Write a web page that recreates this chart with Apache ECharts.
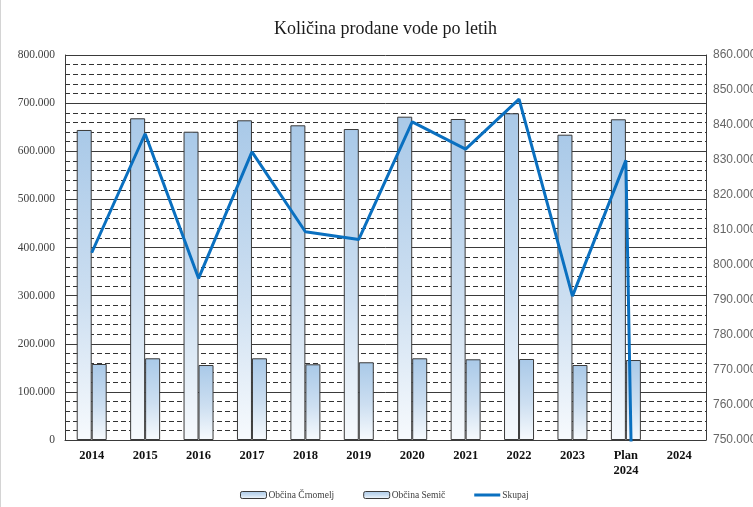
<!DOCTYPE html>
<html>
<head>
<meta charset="utf-8">
<script src="https://cdn.jsdelivr.net/npm/echarts@6/dist/echarts.min.js"></script>
<style>
  html, body { margin: 0; padding: 0; background: #fff; }
  #chart { width: 753px; height: 507px; box-sizing: border-box; border-left: 1px solid #d4d4d4; }
</style>
</head>
<body>
<div id="chart"></div>
<script>
// Years (last two are the plan and the current year)
const categories = ['2014', '2015', '2016', '2017', '2018', '2019', '2020', '2021', '2022', '2023', 'Plan\n2024', '2024'];

// Sold water per municipality (m³), left axis
const crnomelj = [644200, 668500, 640600, 664300, 653900, 646200, 671800, 667000, 678900, 634400, 666400, null];
const semic = [157900, 169800, 155800, 169800, 157300, 161500, 169800, 167700, 168300, 155800, 166200, null];

// Total, right axis
const skupaj = [803500, 837500, 796200, 832300, 809500, 807300, 840900, 833100, 847400, 791100, 829900, 0];

const seriesNames = ['Občina Črnomelj', 'Občina Semič', 'Skupaj'];
const chartTitle = 'Količina prodane vode po letih';

function thousands(v) {
  if (v === 0) return '0';
  return String(Math.round(v)).replace(/\B(?=(\d{3})+(?!\d))/g, '.');
}

const serif = '"Liberation Serif", "DejaVu Serif", serif';
const lineColor = '#0a70c0';
const barFill = new echarts.graphic.LinearGradient(0, 0, 0, 1, [
  { offset: 0, color: '#a9c9e8' },
  { offset: 0.55, color: '#cddff1' },
  { offset: 1, color: '#f7fafd' }
]);
const barStyle = { color: barFill, borderColor: '#3a3a3a', borderWidth: 1 };

// Thin horizontal stroke for the line legend entry; the zero-area segments
// at the top and bottom keep the icon's box at full item height.
const lineIcon = 'path://M0,0 L26,0 M0,2 L26,2 L26,5 L0,5 Z M0,7 L26,7';

const chart = echarts.init(document.getElementById('chart'), null, { renderer: 'canvas' });
chart.setOption({
  animation: false,
  backgroundColor: '#ffffff',
  title: {
    text: chartTitle,
    left: 268,
    top: 15,
    textStyle: { fontFamily: serif, fontSize: 18, fontWeight: 'normal', color: '#1a1a1a' }
  },
  legend: {
    bottom: 2,
    left: 234,
    itemWidth: 26,
    itemHeight: 7,
    itemGap: 29,
    textStyle: { fontFamily: serif, fontSize: 9.5, color: '#404040', padding: [0, 0, 0, -3] },
    data: [
      { name: seriesNames[0], itemStyle: barStyle },
      { name: seriesNames[1], itemStyle: barStyle },
      { name: seriesNames[2], icon: lineIcon, itemStyle: { color: lineColor, borderWidth: 0 } }
    ]
  },
  grid: { left: 64, right: 47, top: 55, bottom: 67, containLabel: false, outerBoundsMode: 'none' },
  xAxis: {
    type: 'category',
    data: categories,
    axisLine: { show: true, lineStyle: { color: '#3a3a3a', width: 1 } },
    axisTick: { show: false },
    axisLabel: {
      margin: 8,
      fontFamily: serif,
      fontSize: 12.5,
      fontWeight: 'bold',
      color: '#111',
      lineHeight: 15,
      interval: 0
    }
  },
  yAxis: [
    {
      type: 'value',
      min: 0,
      max: 800000,
      interval: 100000,
      axisLine: { show: true, lineStyle: { color: '#3a3a3a', width: 1 } },
      axisTick: { show: false },
      axisLabel: {
        formatter: thousands,
        fontFamily: serif,
        fontSize: 11.5,
        color: '#404040',
        margin: 10
      },
      splitLine: { show: true, lineStyle: { color: '#3a3a3a', width: 1 } },
      minorTick: { show: false, splitNumber: 5 },
      minorSplitLine: { show: true, lineStyle: { color: '#333', width: 1, type: [5, 3] } }
    },
    {
      type: 'value',
      min: 750000,
      max: 860000,
      interval: 10000,
      position: 'right',
      axisLine: { show: true, lineStyle: { color: '#3a3a3a', width: 1 } },
      axisTick: { show: false },
      axisLabel: {
        formatter: thousands,
        fontFamily: '"Liberation Sans", "Noto Sans", sans-serif',
        fontSize: 12,
        color: '#666',
        margin: 7
      },
      splitLine: { show: false }
    }
  ],
  series: [
    {
      name: seriesNames[0],
      type: 'bar',
      yAxisIndex: 0,
      data: crnomelj,
      barWidth: 15,
      barGap: '0%',
      itemStyle: barStyle,
      z: 2
    },
    {
      name: seriesNames[1],
      type: 'bar',
      yAxisIndex: 0,
      data: semic,
      barWidth: 15,
      barGap: '0%',
      itemStyle: barStyle,
      z: 2
    },
    {
      name: seriesNames[2],
      type: 'line',
      yAxisIndex: 1,
      data: skupaj,
      clip: true,
      symbol: 'none',
      lineStyle: { color: lineColor, width: 3 },
      itemStyle: { color: lineColor },
      z: 5
    }
  ]
});
</script>
</body>
</html>
